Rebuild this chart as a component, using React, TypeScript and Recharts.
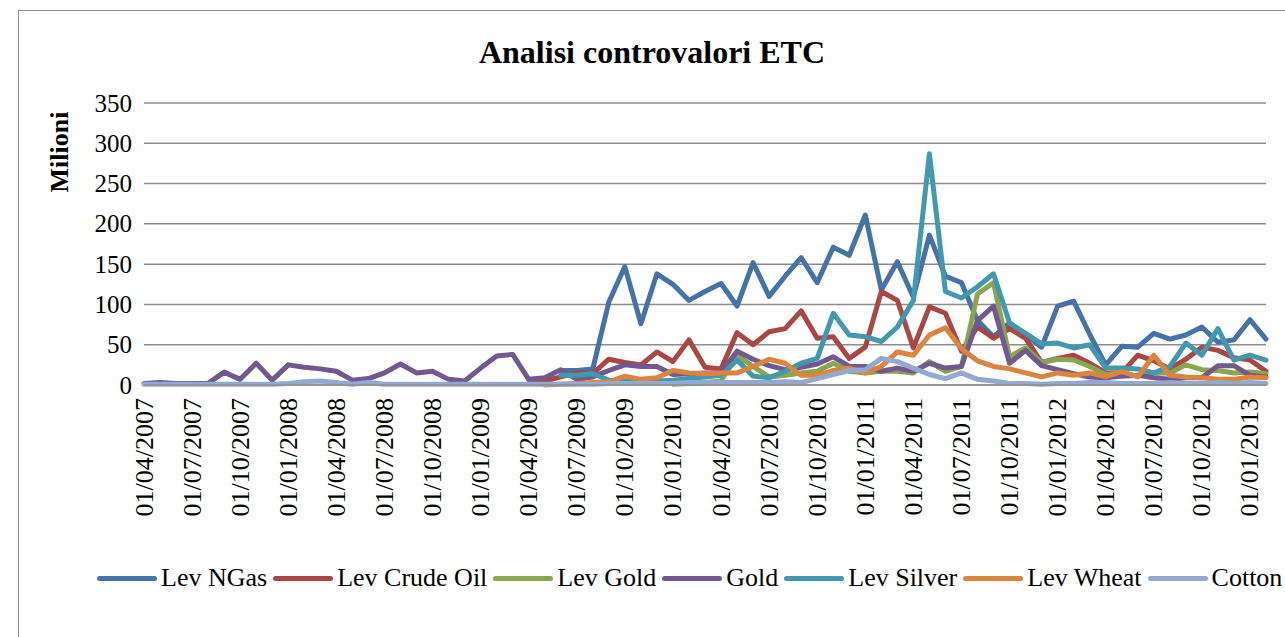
import React from 'react';
import { LineChart, Line, XAxis, YAxis, CartesianGrid } from 'recharts';

const months = [
  '01/04/2007', '01/05/2007', '01/06/2007', '01/07/2007', '01/08/2007', '01/09/2007',
  '01/10/2007', '01/11/2007', '01/12/2007', '01/01/2008', '01/02/2008', '01/03/2008',
  '01/04/2008', '01/05/2008', '01/06/2008', '01/07/2008', '01/08/2008', '01/09/2008',
  '01/10/2008', '01/11/2008', '01/12/2008', '01/01/2009', '01/02/2009', '01/03/2009',
  '01/04/2009', '01/05/2009', '01/06/2009', '01/07/2009', '01/08/2009', '01/09/2009',
  '01/10/2009', '01/11/2009', '01/12/2009', '01/01/2010', '01/02/2010', '01/03/2010',
  '01/04/2010', '01/05/2010', '01/06/2010', '01/07/2010', '01/08/2010', '01/09/2010',
  '01/10/2010', '01/11/2010', '01/12/2010', '01/01/2011', '01/02/2011', '01/03/2011',
  '01/04/2011', '01/05/2011', '01/06/2011', '01/07/2011', '01/08/2011', '01/09/2011',
  '01/10/2011', '01/11/2011', '01/12/2011', '01/01/2012', '01/02/2012', '01/03/2012',
  '01/04/2012', '01/05/2012', '01/06/2012', '01/07/2012', '01/08/2012', '01/09/2012',
  '01/10/2012', '01/11/2012', '01/12/2012', '01/01/2013', '01/02/2013'
];

const _ = null;

const levNGas = [
  _, _, _, _, _, _, _, _, _, _, _, _,
  _, _, _, _, _, _, _, _, _, _, _, _,
  _, _, 18, 18, 20, 103, 147, 76, 138, 125, 105, 116,
  126, 98, 152, 110, 135, 158, 127, 171, 161, 211, 118, 153,
  109, 186, 135, 127, 80, 60, 77, 62, 47, 98, 104, 63,
  25, 48, 47, 64, 57, 62, 72, 53, 56, 81, 57
];

const levCrudeOil = [
  _, _, _, _, _, _, _, _, _, _, _, _,
  _, _, _, _, _, _, _, _, _, _, _, _,
  2, 5, 10, 15, 14, 32, 28, 25, 41, 29, 56, 22,
  20, 65, 50, 66, 70, 92, 58, 60, 33, 47, 116, 105,
  46, 97, 89, 42, 72, 58, 70, 58, 28, 33, 37, 27,
  15, 15, 37, 30, 20, 32, 47, 43, 34, 31, 17
];

const levGold = [
  _, _, _, _, _, _, _, _, _, _, _, _,
  _, _, _, _, _, _, _, _, _, _, _, _,
  _, _, _, _, _, _, _, _, _, 1, 2, 3,
  5, 37, 23, 10, 12, 15, 17, 27, 17, 15, 17, 17,
  15, 29, 17, 23, 113, 127, 35, 46, 28, 32, 31, 23,
  13, 15, 11, 15, 15, 25, 19, 18, 15, 16, 14
];

const gold = [
  2, 3, 2, 2, 2, 16, 7, 27, 6, 25, 22, 20,
  17, 6, 8, 15, 26, 15, 17, 7, 5, 21, 36, 38,
  7, 9, 19, 7, 10, 18, 25, 23, 23, 13, 14, 15,
  15, 42, 32, 24, 19, 22, 26, 35, 23, 23, 17, 21,
  17, 27, 21, 23, 80, 98, 27, 43, 24, 19, 14, 10,
  9, 11, 12, 9, 7, 9, 9, 24, 24, 12, 10
];

const levSilver = [
  _, _, _, _, _, _, _, _, _, _, _, _,
  _, _, _, _, _, _, _, _, _, _, _, _,
  _, _, 12, 12, 14, 6, 5, 4, 5, 6, 8, 10,
  12, 31, 11, 9, 17, 27, 33, 89, 62, 60, 54, 72,
  105, 287, 116, 108, 122, 138, 77, 64, 51, 52, 46, 50,
  21, 21, 20, 15, 23, 52, 37, 70, 31, 37, 31
];

const levWheat = [
  _, _, _, _, _, _, _, _, _, _, _, _,
  _, _, _, _, _, _, _, _, _, _, _, _,
  _, 0, 1, 2, 3, 4, 11, 7, 9, 18, 15, 14,
  15, 15, 23, 32, 27, 12, 12, 18, 21, 15, 23, 41,
  37, 62, 71, 45, 30, 23, 20, 15, 10, 15, 12, 15,
  10, 17, 10, 37, 12, 10, 9, 7, 7, 10, 9
];

const cotton = [
  1, 1, 1, 1, 1, 1, 1, 1, 1, 2, 4, 5,
  3, 1, 3, 1, 1, 1, 1, 1, 1, 1, 1, 1,
  1, 1, 1, 1, 1, 2, 2, 2, 2, 2, 3, 3,
  3, 3, 3, 3, 4, 3, 8, 13, 18, 19, 33, 29,
  21, 13, 8, 15, 7, 5, 2, 2, 1, 2, 2, 3,
  3, 2, 2, 2, 3, 2, 2, 3, 2, 3, 2
];

const yTicks = [0, 50, 100, 150, 200, 250, 300, 350];

const series = [
  { key: 'ngas', name: 'Lev NGas', color: '#4572A7', values: levNGas },
  { key: 'crude', name: 'Lev Crude Oil', color: '#AA4643', values: levCrudeOil },
  { key: 'levgold', name: 'Lev Gold', color: '#89A54E', values: levGold },
  { key: 'gold', name: 'Gold', color: '#71588F', values: gold },
  { key: 'silver', name: 'Lev Silver', color: '#4198AF', values: levSilver },
  { key: 'wheat', name: 'Lev Wheat', color: '#DB843D', values: levWheat },
  { key: 'cotton', name: 'Cotton', color: '#93A9CF', values: cotton }
];

const data = months.map((m, i) => {
  const row: Record<string, string | number | null> = { date: m };
  series.forEach((s) => {
    row[s.key] = s.values[i];
  });
  return row;
});

const FONT = '"Liberation Serif", "Times New Roman", serif';
const GRID = '#8c8c8c';

const XTick = ({ x, y, payload }: any) => (
  <text
    x={x}
    y={y}
    transform={`rotate(-90, ${x}, ${y})`}
    textAnchor="end"
    dominantBaseline="central"
    fontFamily={FONT}
    fontSize={26}
    fill="#000"
  >
    {payload.value}
  </text>
);

const YTick = ({ x, y, payload }: any) => (
  <text x={x} y={y} textAnchor="end" dominantBaseline="central" fontFamily={FONT} fontSize={25} fill="#000">
    {payload.value}
  </text>
);

export default function App() {
  return (
    <div
      style={{
        position: 'absolute',
        left: 0,
        top: 0,
        width: 1285,
        height: 637,
        overflow: 'hidden',
        background: '#fff'
      }}
    >
      <div
        style={{
          position: 'absolute',
          left: 18,
          top: 10,
          width: 1300,
          height: 700,
          border: '1px solid #8a8a8a'
        }}
      />
      <div
        style={{
          position: 'absolute',
          left: 0,
          top: 36,
          width: 1304,
          textAlign: 'center',
          fontFamily: FONT,
          fontWeight: 'bold',
          fontSize: 32,
          lineHeight: '32px'
        }}
      >
        Analisi controvalori ETC
      </div>
      <div style={{ position: 'absolute', left: 0, top: 0 }}>
        <LineChart width={1285} height={637} data={data} margin={{ top: 103, right: 19, left: 84, bottom: 102 }}>
          <CartesianGrid vertical={false} stroke={GRID} strokeWidth={1.5} />
          <XAxis
            dataKey="date"
            interval={2}
            height={150}
            tickLine={false}
            tickSize={0}
            tickMargin={13}
            axisLine={{ stroke: GRID, strokeWidth: 1.5 }}
            tick={<XTick />}
          />
          <YAxis
            width={60}
            domain={[0, 350]}
            ticks={yTicks}
            axisLine={false}
            tickLine={false}
            tickSize={0}
            tickMargin={12}
            tick={<YTick />}
            label={{
              content: () => (
                <text
                  x={59}
                  y={152}
                  transform="rotate(-90, 59, 152)"
                  textAnchor="middle"
                  dominantBaseline="central"
                  fontFamily={FONT}
                  fontWeight="bold"
                  fontSize={26}
                  fill="#000"
                >
                  Milioni
                </text>
              )
            }}
          />
          {series.map((s) => (
            <Line
              key={s.key}
              type="linear"
              dataKey={s.key}
              name={s.name}
              stroke={s.color}
              strokeWidth={5}
              strokeLinejoin="round"
              strokeLinecap="round"
              dot={false}
              activeDot={false}
              connectNulls={false}
              isAnimationActive={false}
            />
          ))}
        </LineChart>
      </div>
      <div
        style={{
          position: 'absolute',
          left: 97,
          top: 562,
          display: 'flex',
          alignItems: 'center',
          whiteSpace: 'nowrap',
          fontFamily: FONT,
          fontSize: 26,
          lineHeight: '32px'
        }}
      >
        {series.map((s) => (
          <div key={s.key} style={{ display: 'flex', alignItems: 'center', marginRight: 6 }}>
            <div style={{ width: 60, height: 5, borderRadius: 3, background: s.color, marginRight: 4 }} />
            <span>{s.name}</span>
          </div>
        ))}
      </div>
    </div>
  );
}
